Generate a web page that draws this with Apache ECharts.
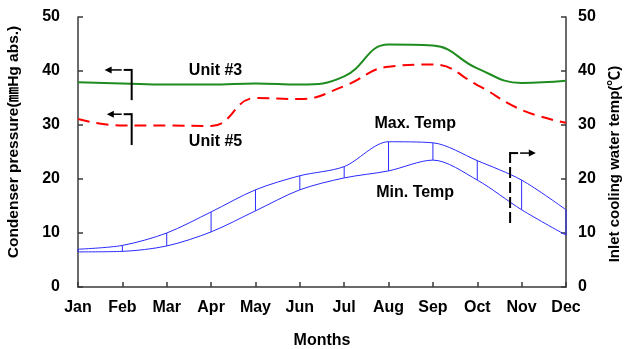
<!DOCTYPE html>
<html>
<head>
<meta charset="utf-8">
<script src="https://cdn.jsdelivr.net/npm/echarts@6/dist/echarts.min.js"></script>
<style>
  html, body { margin: 0; padding: 0; background: #ffffff; }
  #chart { width: 624px; height: 349px; }
</style>
</head>
<body>
<div id="chart"></div>
<script>
// Monthly condenser pressure (mmHg abs.) and inlet cooling water temperature (°C)
const months = ['Jan', 'Feb', 'Mar', 'Apr', 'May', 'Jun', 'Jul', 'Aug', 'Sep', 'Oct', 'Nov', 'Dec'];
const unit3 = [37.9, 37.7, 37.5, 37.5, 37.7, 37.5, 39.0, 44.9, 44.7, 40.5, 37.8, 38.2];
const unit5 = [31.1, 29.9, 29.9, 29.8, 35.0, 34.8, 37.2, 40.8, 41.2, 37.4, 32.8, 30.4];
const maxTemp = [7.0, 7.7, 10.0, 13.9, 18.0, 20.6, 22.3, 26.9, 26.7, 23.4, 19.8, 14.3];
const minTemp = [6.5, 6.6, 7.6, 10.2, 14.1, 18.0, 20.2, 21.5, 23.5, 19.8, 14.3, 9.6];

// Annotation text, anchored in data units (month index, axis value)
const notes = [
  { text: 'Unit #3',   x: 3.1, y: 40.0 },
  { text: 'Unit #5',   x: 3.1, y: 26.9 },
  { text: 'Max. Temp', x: 7.6, y: 30.2 },
  { text: 'Min. Temp', x: 7.6, y: 17.4 }
];
// Axis pointers: bracket post at x, from yTop down to yBottom, arrow toward tipX
const pointers = [
  { x: 1.21, yTop: 40.2, yBottom: 34.6, tipX: 0.6, dashed: false },
  { x: 1.21, yTop: 32.0, yBottom: 26.3, tipX: 0.65, dashed: false },
  { x: 9.74, yTop: 24.8, yBottom: 11.1, tipX: 10.32, dashed: true }
];

const FONT = '"Liberation Sans", Arial, "Noto Sans CJK JP", sans-serif';
const AXIS_COLOR = '#3a3a3a';

const chart = echarts.init(document.getElementById('chart'), null, { renderer: 'canvas' });

const valueAxis = (position, name, gap, margin, nameSize, namePadding) => ({
  type: 'value',
  position: position,
  min: 0,
  max: 50,
  interval: 10,
  name: name,
  nameLocation: 'middle',
  nameRotate: 90,
  nameGap: gap,
  nameTextStyle: { fontFamily: FONT, fontWeight: 'bold', fontSize: nameSize, color: '#000', padding: namePadding },
  axisLine: { show: true, lineStyle: { color: AXIS_COLOR, width: 1.5 } },
  axisTick: { show: true, inside: true, length: 5, lineStyle: { color: AXIS_COLOR, width: 1.5 } },
  axisLabel: { fontFamily: FONT, fontWeight: 'bold', fontSize: 16, color: '#000', margin: margin },
  splitLine: { show: false }
});

chart.setOption({
  animation: false,
  backgroundColor: '#ffffff',
  grid: { left: 78, right: 58, top: 17, bottom: 62, containLabel: false, outerBoundsMode: 'none' },
  xAxis: {
    type: 'category',
    data: months,
    boundaryGap: false,
    name: 'Months',
    nameLocation: 'middle',
    nameGap: 46,
    nameTextStyle: { fontFamily: FONT, fontWeight: 'bold', fontSize: 16, color: '#000' },
    axisLine: { show: true, onZero: false, lineStyle: { color: AXIS_COLOR, width: 1.5 } },
    axisTick: { show: true, inside: true, length: 5, alignWithLabel: true, lineStyle: { color: AXIS_COLOR, width: 1.5 } },
    axisLabel: { fontFamily: FONT, fontWeight: 'bold', fontSize: 16, color: '#000', margin: 13, interval: 0 },
    splitLine: { show: false }
  },
  yAxis: [
    valueAxis('left', 'Condenser pressure(㎜Hg abs.)', 57, 18, 15.5, [0, 0, 0, 20]),
    valueAxis('right', 'Inlet cooling water temp(℃)', 41, 12, 15, [0, 24, 0, 0])
  ],
  series: [
    {
      name: 'Unit #3', type: 'line', yAxisIndex: 0, data: unit3,
      smooth: 0.45, symbol: 'none',
      lineStyle: { color: '#1e8c1e', width: 2 }
    },
    {
      name: 'Unit #5', type: 'line', yAxisIndex: 0, data: unit5,
      smooth: 0.45, symbol: 'none',
      lineStyle: { color: '#ff0000', width: 2, type: [12, 7] }
    },
    {
      name: 'Max. Temp', type: 'line', yAxisIndex: 1, data: maxTemp,
      smooth: 0.3, symbol: 'none',
      lineStyle: { color: '#2a2aff', width: 1 }
    },
    {
      name: 'Min. Temp', type: 'line', yAxisIndex: 1, data: minTemp,
      smooth: 0.3, symbol: 'none',
      lineStyle: { color: '#2a2aff', width: 1 }
    },
    {
      // monthly min-to-max range ticks
      name: 'Range', type: 'custom', yAxisIndex: 1,
      data: months.map((m, i) => [i, minTemp[i], maxTemp[i]]),
      encode: { x: 0, y: [1, 2] },
      renderItem: function (params, api) {
        const lo = api.coord([api.value(0), api.value(1)]);
        const hi = api.coord([api.value(0), api.value(2)]);
        return {
          type: 'line',
          shape: { x1: lo[0], y1: lo[1], x2: hi[0], y2: hi[1] },
          style: { stroke: '#2a2aff', lineWidth: 1 }
        };
      }
    }
  ]
});

// Pixel position from a (possibly fractional) month index and an axis value
function toPx(xi, v) {
  const a = chart.convertToPixel({ xAxisIndex: 0, yAxisIndex: 0 }, [0, v]);
  const b = chart.convertToPixel({ xAxisIndex: 0, yAxisIndex: 0 }, [months.length - 1, v]);
  return [a[0] + (b[0] - a[0]) * xi / (months.length - 1), a[1]];
}

const graphics = [];
notes.forEach(n => {
  const p = toPx(n.x, n.y);
  graphics.push({
    type: 'text', x: p[0], y: p[1], z: 10,
    style: { text: n.text, font: 'bold 16px ' + FONT, fill: '#000', align: 'center', verticalAlign: 'middle' }
  });
});
pointers.forEach(pt => {
  const top = toPx(pt.x, pt.yTop);
  const bot = toPx(pt.x, pt.yBottom);
  const tip = toPx(pt.tipX, pt.yTop);
  const dir = tip[0] < top[0] ? -1 : 1;
  const elbowEnd = top[0] + dir * 8;
  // post (solid or dashed)
  graphics.push({
    type: 'line', z: 10,
    shape: { x1: top[0], y1: top[1] - 1, x2: bot[0], y2: bot[1] },
    style: { stroke: '#000', lineWidth: 2, lineDash: pt.dashed ? [11, 4] : null }
  });
  // elbow
  graphics.push({
    type: 'line', z: 10,
    shape: { x1: top[0], y1: top[1], x2: elbowEnd, y2: top[1] },
    style: { stroke: '#000', lineWidth: 2 }
  });
  // arrow shaft
  graphics.push({
    type: 'line', z: 10,
    shape: { x1: elbowEnd + dir * 2, y1: top[1], x2: tip[0] - dir * 4, y2: top[1] },
    style: { stroke: '#000', lineWidth: 1.5 }
  });
  // arrow head
  graphics.push({
    type: 'polygon', z: 10,
    shape: { points: [[tip[0], top[1]], [tip[0] - dir * 7, top[1] - 3.5], [tip[0] - dir * 7, top[1] + 3.5]] },
    style: { fill: '#000' }
  });
});
chart.setOption({ graphic: graphics });
</script>
</body>
</html>
